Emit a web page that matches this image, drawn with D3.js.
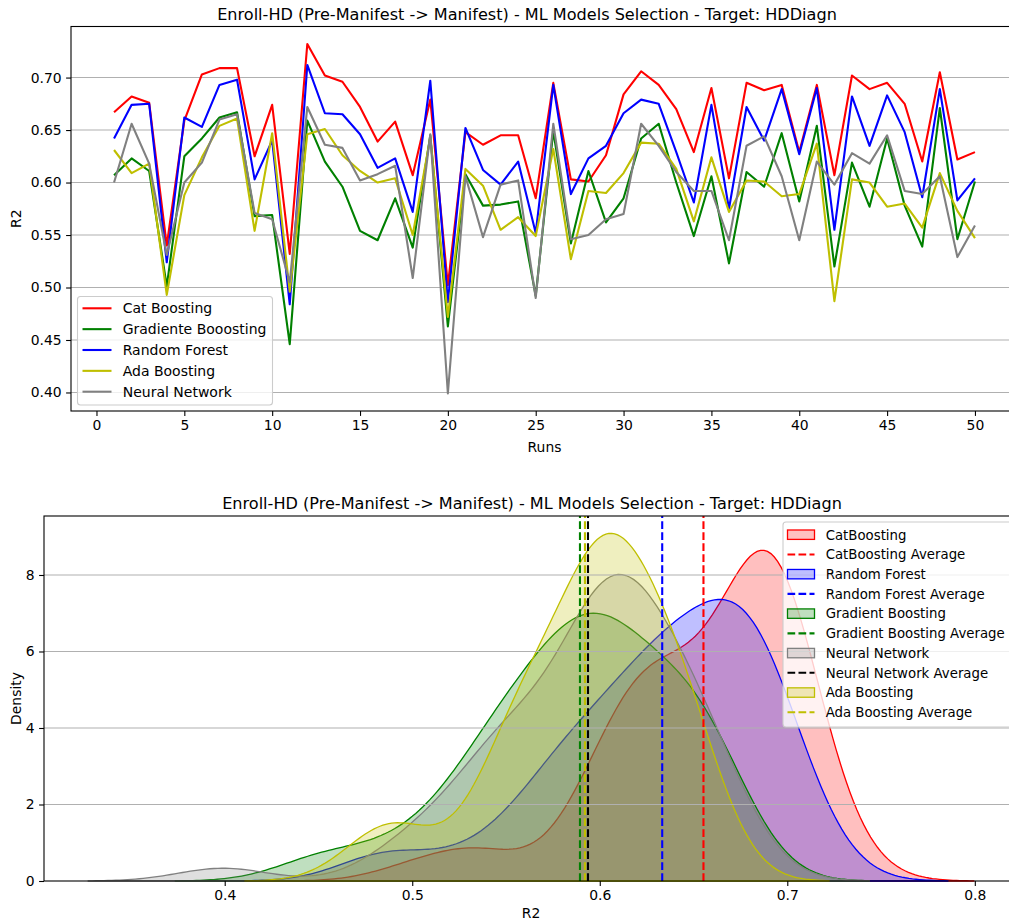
<!DOCTYPE html>
<html><head><meta charset="utf-8">
<script src="https://cdn.jsdelivr.net/npm/d3@7/dist/d3.min.js"></script>
<style>
body{margin:0;background:#fff}
text{font-family:"DejaVu Sans",sans-serif;fill:#000}
</style>
</head><body>
<svg id="c" width="1009" height="924" xmlns="http://www.w3.org/2000/svg"></svg>
<script>
// ---------------- DATA ----------------
const runs = [1,2,3,4,5,6,7,8,9,10,11,12,13,14,15,16,17,18,19,20,21,22,23,24,25,
              26,27,28,29,30,31,32,33,34,35,36,37,38,39,40,41,42,43,44,45,46,47,48,49,50];
const catBoosting = [0.667,0.682,0.676,0.540,0.659,0.703,0.709,0.709,0.625,0.674,
  0.532,0.732,0.702,0.696,0.672,0.639,0.658,0.607,0.679,0.502,
  0.648,0.636,0.645,0.645,0.585,0.695,0.603,0.601,0.626,0.684,
  0.706,0.693,0.670,0.629,0.690,0.604,0.695,0.688,0.693,0.629,
  0.693,0.607,0.702,0.689,0.695,0.675,0.620,0.705,0.622,0.629];
const gradientBoosting = [0.607,0.623,0.611,0.501,0.625,0.642,0.662,0.667,0.568,0.569,
  0.446,0.659,0.620,0.596,0.554,0.545,0.585,0.538,0.645,0.463,
  0.608,0.578,0.579,0.582,0.492,0.649,0.542,0.611,0.562,0.585,
  0.642,0.656,0.600,0.549,0.606,0.523,0.610,0.596,0.647,0.582,
  0.654,0.520,0.619,0.577,0.642,0.578,0.539,0.671,0.546,0.601];
const randomForest = [0.642,0.674,0.675,0.524,0.662,0.653,0.693,0.698,0.603,0.640,
  0.484,0.712,0.666,0.665,0.646,0.614,0.623,0.572,0.697,0.486,
  0.652,0.612,0.598,0.620,0.552,0.693,0.589,0.623,0.635,0.666,
  0.679,0.675,0.629,0.581,0.674,0.575,0.672,0.640,0.689,0.627,
  0.690,0.555,0.682,0.635,0.683,0.648,0.586,0.689,0.583,0.604];
const adaBoosting = [0.631,0.609,0.618,0.493,0.588,0.624,0.654,0.661,0.554,0.647,
  0.496,0.646,0.651,0.626,0.611,0.600,0.604,0.550,0.643,0.472,
  0.613,0.597,0.555,0.567,0.549,0.632,0.527,0.592,0.590,0.609,
  0.638,0.637,0.613,0.563,0.624,0.572,0.602,0.601,0.587,0.589,
  0.637,0.487,0.603,0.600,0.577,0.580,0.557,0.609,0.573,0.547];
const neuralNetwork = [0.600,0.656,0.618,0.531,0.600,0.619,0.660,0.665,0.571,0.565,
  0.505,0.672,0.636,0.633,0.602,0.608,0.616,0.509,0.646,0.399,
  0.606,0.548,0.598,0.602,0.490,0.656,0.546,0.550,0.565,0.570,
  0.656,0.635,0.610,0.592,0.592,0.545,0.635,0.644,0.606,0.545,
  0.620,0.598,0.628,0.618,0.645,0.592,0.589,0.606,0.529,0.559];

const topTicksX = [0,5,10,15,20,25,30,35,40,45,50];
const topTicksY = [0.40,0.45,0.50,0.55,0.60,0.65,0.70];
const botTicksX = [0.4,0.5,0.6,0.7,0.8];
const botTicksY = [0,2,4,6,8];

const title = "Enroll-HD (Pre-Manifest -> Manifest) - ML Models Selection - Target: HDDiagn";

const lineSeries = [
  {name:"Cat Boosting", values:catBoosting, color:"#ff0000"},
  {name:"Gradiente Booosting", values:gradientBoosting, color:"#008000"},
  {name:"Random Forest", values:randomForest, color:"#0000ff"},
  {name:"Ada Boosting", values:adaBoosting, color:"#bfbf00"},
  {name:"Neural Network", values:neuralNetwork, color:"#808080"}
];
const kdeSeries = [
  {name:"CatBoosting", values:catBoosting, color:"#ff0000", avgColor:"#ff0000"},
  {name:"Random Forest", values:randomForest, color:"#0000ff", avgColor:"#0000ff"},
  {name:"Gradient Boosting", values:gradientBoosting, color:"#008000", avgColor:"#008000"},
  {name:"Neural Network", values:neuralNetwork, color:"#808080", avgColor:"#000000"},
  {name:"Ada Boosting", values:adaBoosting, color:"#bfbf00", avgColor:"#bfbf00"}
];

// ---------------- HELPERS ----------------
const svg = d3.select("#c");
const FS = 13.9;
function pad(ext, f){ const r = ext[1]-ext[0]; return [ext[0]-r*f, ext[1]+r*f]; }

// ---------------- TOP CHART ----------------
const T = {left:71, right:1018, top:26.5, bottom:411};
const allVals = [].concat(...lineSeries.map(s=>s.values));
const xT = d3.scaleLinear().domain(pad(d3.extent(runs),0.05)).range([T.left,T.right]);
const yT = d3.scaleLinear().domain(pad(d3.extent(allVals),0.05)).range([T.bottom,T.top]);

const gT = svg.append("g");
gT.selectAll(".gy").data(topTicksY).enter().append("line")
  .attr("x1",T.left).attr("x2",T.right)
  .attr("y1",d=>yT(d)).attr("y2",d=>yT(d))
  .attr("stroke","#b0b0b0").attr("stroke-width",1.1);
const lineGen = d3.line().x((d,i)=>xT(runs[i])).y(d=>yT(d));
lineSeries.forEach(s=>{
  gT.append("path").attr("d",lineGen(s.values)).attr("fill","none")
    .attr("stroke",s.color).attr("stroke-width",2.1).attr("stroke-linejoin","round");
});
const axTB = gT.append("g").attr("transform",`translate(0,${T.bottom})`)
  .call(d3.axisBottom(xT).tickValues(topTicksX).tickSize(4.9).tickPadding(4.5).tickFormat(d3.format("d")));
const axTL = gT.append("g").attr("transform",`translate(${T.left},0)`)
  .call(d3.axisLeft(yT).tickValues(topTicksY).tickSize(4.9).tickPadding(4.5).tickFormat(d3.format(".2f")));
[axTB,axTL].forEach(a=>{a.select(".domain").remove(); a.selectAll("text").style("font-size",FS+"px").attr("fill","#000"); a.selectAll("line").attr("stroke","#000").attr("stroke-width",1.1);});
gT.append("rect").attr("x",T.left).attr("y",T.top).attr("width",T.right-T.left).attr("height",T.bottom-T.top)
  .attr("fill","none").attr("stroke","#000").attr("stroke-width",1.1);
gT.append("text").attr("x",527).attr("y",T.top-7).attr("text-anchor","middle")
  .style("font-size","16.1px").text(title);
gT.append("text").attr("x",(T.left+T.right)/2).attr("y",452).attr("text-anchor","middle")
  .style("font-size",FS+"px").text("Runs");
gT.append("text").attr("transform",`translate(21,${(T.top+T.bottom)/2}) rotate(-90)`).attr("text-anchor","middle")
  .style("font-size",FS+"px").text("R2");
const LT = {x:77.5, y:296.5, w:195, h:108.5, row:20.85, first:308.3};
const lgT = gT.append("g");
lgT.append("rect").attr("x",LT.x).attr("y",LT.y).attr("width",LT.w).attr("height",LT.h).attr("rx",3)
  .attr("fill","#fff").attr("fill-opacity",0.8).attr("stroke","#cccccc").attr("stroke-width",1.1);
lineSeries.forEach((s,i)=>{
  const cy = LT.first + i*LT.row;
  lgT.append("line").attr("x1",82.5).attr("x2",111.5).attr("y1",cy).attr("y2",cy)
    .attr("stroke",s.color).attr("stroke-width",2.1);
  lgT.append("text").attr("x",122.7).attr("y",cy+5).style("font-size","14px").text(s.name);
});

// ---------------- BOTTOM CHART ----------------
const B = {left:44, right:1018, top:516, bottom:881};
function kde(values){
  const n = values.length;
  const bw = d3.deviation(values)*Math.pow(n,-0.2);
  const lo = d3.min(values)-3*bw, hi = d3.max(values)+3*bw;
  const grid = d3.range(200).map(i=>lo+(hi-lo)*i/199);
  const c = 1/(n*bw*Math.sqrt(2*Math.PI));
  return grid.map(x=>[x, c*d3.sum(values, v=>Math.exp(-0.5*((x-v)/bw)**2))]);
}
kdeSeries.forEach(s=>{ s.curve = kde(s.values); s.avg = d3.mean(s.values); });
const xExt = [d3.min(kdeSeries,s=>s.curve[0][0]), d3.max(kdeSeries,s=>s.curve[s.curve.length-1][0])];
const yMax = d3.max(kdeSeries,s=>d3.max(s.curve,d=>d[1]));
const xB = d3.scaleLinear().domain(pad(xExt,0.05)).range([B.left,B.right]);
const yB = d3.scaleLinear().domain([0,yMax*1.05]).range([B.bottom,B.top]);

const gB = svg.append("g");
const area = d3.area().x(d=>xB(d[0])).y0(yB(0)).y1(d=>yB(d[1]));
kdeSeries.forEach(s=>{
  gB.append("path").attr("d",area(s.curve)).attr("fill",s.color).attr("fill-opacity",0.25)
    .attr("stroke",s.color).attr("stroke-width",1.3);
});
gB.selectAll(".gy").data(botTicksY.filter(d=>d>0)).enter().append("line")
  .attr("x1",B.left).attr("x2",B.right)
  .attr("y1",d=>yB(d)).attr("y2",d=>yB(d))
  .attr("stroke","#b0b0b0").attr("stroke-width",1.1);
kdeSeries.forEach(s=>{
  gB.append("line").attr("x1",xB(s.avg)).attr("x2",xB(s.avg)).attr("y1",B.bottom).attr("y2",B.top)
    .attr("stroke",s.avgColor).attr("stroke-width",2.1).attr("stroke-dasharray","7.7,3.3");
});
const axBB = gB.append("g").attr("transform",`translate(0,${B.bottom})`)
  .call(d3.axisBottom(xB).tickValues(botTicksX).tickSize(4.9).tickPadding(4.5).tickFormat(d3.format(".1f")));
const axBL = gB.append("g").attr("transform",`translate(${B.left},0)`)
  .call(d3.axisLeft(yB).tickValues(botTicksY).tickSize(4.9).tickPadding(4.5).tickFormat(d3.format("d")));
[axBB,axBL].forEach(a=>{a.select(".domain").remove(); a.selectAll("text").style("font-size",FS+"px").attr("fill","#000"); a.selectAll("line").attr("stroke","#000").attr("stroke-width",1.1);});
gB.append("rect").attr("x",B.left).attr("y",B.top).attr("width",B.right-B.left).attr("height",B.bottom-B.top)
  .attr("fill","none").attr("stroke","#000").attr("stroke-width",1.1);
gB.append("text").attr("x",532).attr("y",B.top-7).attr("text-anchor","middle")
  .style("font-size","16.1px").text(title);
gB.append("text").attr("x",(B.left+B.right)/2).attr("y",918).attr("text-anchor","middle")
  .style("font-size",FS+"px").text("R2");
gB.append("text").attr("transform",`translate(21,${(B.top+B.bottom)/2}) rotate(-90)`).attr("text-anchor","middle")
  .style("font-size",FS+"px").text("Density");
const LB = {x:783, y:522, w:240, h:205, row:19.73, first:534.7};
const lgB = gB.append("g");
lgB.append("rect").attr("x",LB.x).attr("y",LB.y).attr("width",LB.w).attr("height",LB.h).attr("rx",3)
  .attr("fill","#fff").attr("fill-opacity",0.8).attr("stroke","#cccccc").attr("stroke-width",1.1);
kdeSeries.forEach((s,i)=>{
  const cy1 = LB.first + (2*i)*LB.row, cy2 = LB.first + (2*i+1)*LB.row;
  lgB.append("rect").attr("x",787.5).attr("y",cy1-4.7).attr("width",27).attr("height",9.4)
    .attr("fill",s.color).attr("fill-opacity",0.25).attr("stroke",s.color).attr("stroke-width",1.3);
  lgB.append("text").attr("x",825.7).attr("y",cy1+4.8).style("font-size","13.3px").text(s.name);
  lgB.append("line").attr("x1",787.5).attr("x2",814.5).attr("y1",cy2).attr("y2",cy2)
    .attr("stroke",s.avgColor).attr("stroke-width",2.1).attr("stroke-dasharray","7.7,3.3");
  lgB.append("text").attr("x",825.7).attr("y",cy2+4.8).style("font-size","13.3px").text(s.name+" Average");
});
</script>
</body></html>
